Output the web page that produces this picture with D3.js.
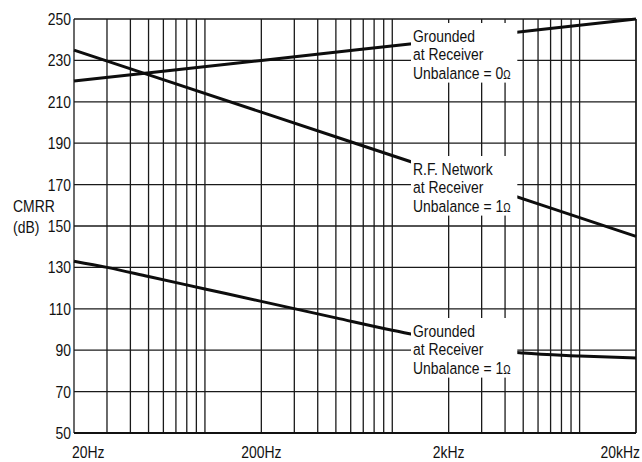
<!DOCTYPE html>
<html>
<head>
<meta charset="utf-8">
<script src="https://cdn.jsdelivr.net/npm/d3@7"></script>
<style>
  html, body { margin: 0; padding: 0; background: #fff; }
  svg { display: block; }
  text { font-family: "Liberation Sans", Arial, sans-serif; fill: #111; }
</style>
</head>
<body>
<svg id="chart" width="642" height="462"></svg>
<script>
// Frequency axis ticks (labelled decades)
const freqTicks = [20, 200, 2000, 20000];
const freqTickLabels = ["20Hz", "200Hz", "2kHz", "20kHz"];
// CMRR axis ticks in dB
const dbTicks = [50, 70, 90, 110, 130, 150, 170, 190, 210, 230, 250];

// Grounded at receiver, unbalance 0 Ω
const freqGround0 = [20, 200, 2000, 20000];
const cmrrGround0 = [220, 230, 240, 250];

// R.F. network at receiver, unbalance 1 Ω
const freqRF1 = [20, 200, 2000, 20000];
const cmrrRF1 = [235, 205, 175, 145];

// Grounded at receiver, unbalance 1 Ω
const freqGround1 = [20, 30, 50, 100, 200, 500, 1000, 2000, 3000, 5000, 10000, 20000];
const cmrrGround1 = [133, 130, 125.6, 119.6, 113.6, 105.6, 99.6, 94.2, 90.8, 88.6, 87.2, 86.2];

// Curve annotations
const seriesLabels = [
  ["Grounded", "at Receiver", "Unbalance = 0"],
  ["R.F. Network", "at Receiver", "Unbalance = 1"],
  ["Grounded", "at Receiver", "Unbalance = 1"]
];
const unitSymbol = "\u03A9";

const svg = d3.select("#chart");
const plotL = 74, plotR = 636, plotT = 19, plotB = 433;
const narrow = 0.82;   // horizontal squeeze for a condensed face
const fontSize = 17;

const x = d3.scaleLog().domain([20, 20000]).range([plotL, plotR]);
const y = d3.scaleLinear().domain([50, 250]).range([plotB, plotT]);

// condensed text helper
function narrowText(parent, px, py, str, anchor) {
  return parent.append("g")
    .attr("transform", `translate(${px},${py}) scale(${narrow},1)`)
    .append("text")
    .attr("font-size", fontSize)
    .attr("text-anchor", anchor || "start")
    .text(str);
}

// Minor log grid: 1..9 × each decade between 20 Hz and 20 kHz
const gridFreqs = [];
for (let dec = 10; dec <= 10000; dec *= 10) {
  for (let m = 1; m <= 9; m++) {
    const f = m * dec;
    if (f >= 20 && f <= 20000) gridFreqs.push(f);
  }
}
gridFreqs.push(20000);

const grid = svg.append("g").attr("stroke", "#1a1a1a").attr("stroke-width", 1.3);
grid.selectAll("line.v").data(gridFreqs).join("line")
  .attr("class", "v")
  .attr("x1", d => x(d)).attr("x2", d => x(d))
  .attr("y1", plotT).attr("y2", plotB);
grid.selectAll("line.h").data(dbTicks).join("line")
  .attr("class", "h")
  .attr("x1", plotL).attr("x2", plotR)
  .attr("y1", d => y(d)).attr("y2", d => y(d));
// heavier baseline
svg.append("line").attr("x1", plotL).attr("x2", plotR)
  .attr("y1", plotB).attr("y2", plotB)
  .attr("stroke", "#111").attr("stroke-width", 2);

// Data curves
const curves = [
  { f: freqGround0, v: cmrrGround0 },
  { f: freqRF1, v: cmrrRF1 },
  { f: freqGround1, v: cmrrGround1 }
];
const lineGen = d3.line()
  .x(d => x(d[0]))
  .y(d => y(d[1]))
  .curve(d3.curveMonotoneX);
svg.append("g").selectAll("path").data(curves).join("path")
  .attr("d", c => lineGen(c.f.map((f, i) => [f, c.v[i]])))
  .attr("fill", "none")
  .attr("stroke", "#0d0d0d")
  .attr("stroke-width", 3);

// Annotation boxes, blanking the grid and curve behind the text
const boxF0 = 1290, boxF1 = 4650;
const firstBaselines = [42, 175, 337];
const lineGap = 18.3;
const ann = svg.append("g");
seriesLabels.forEach((lines, i) => {
  const b0 = firstBaselines[i];
  const bN = b0 + lineGap * (lines.length - 1);
  ann.append("rect")
    .attr("x", x(boxF0) - 2).attr("width", x(boxF1) - x(boxF0) + 2)
    .attr("y", b0 - 19).attr("height", bN - b0 + 23)
    .attr("fill", "#fff");
  const t = ann.append("g")
    .attr("transform", `translate(${x(boxF0)},${b0}) scale(${narrow},1)`)
    .append("text").attr("font-size", fontSize);
  lines.forEach((s, k) => {
    t.append("tspan").attr("x", 0).attr("y", k * lineGap).text(s);
    if (k === lines.length - 1) {
      t.append("tspan").attr("font-size", 12).text(unitSymbol);
    }
  });
});

// Y tick labels
const yLabels = svg.append("g");
dbTicks.forEach(d => narrowText(yLabels, 71, y(d) + 6, d, "end"));

// Y axis title
narrowText(svg, 13, 212, "CMRR");
narrowText(svg, 13, 233, "(dB)");

// X tick labels
const xLabels = svg.append("g");
freqTicks.forEach((d, i) => {
  const last = freqTicks.length - 1;
  const anchor = i === 0 ? "start" : i === last ? "end" : "middle";
  const px = x(d) + (i === 0 ? -2 : i === last ? 4 : 0);
  narrowText(xLabels, px, 458, freqTickLabels[i], anchor);
});
</script>
</body>
</html>
